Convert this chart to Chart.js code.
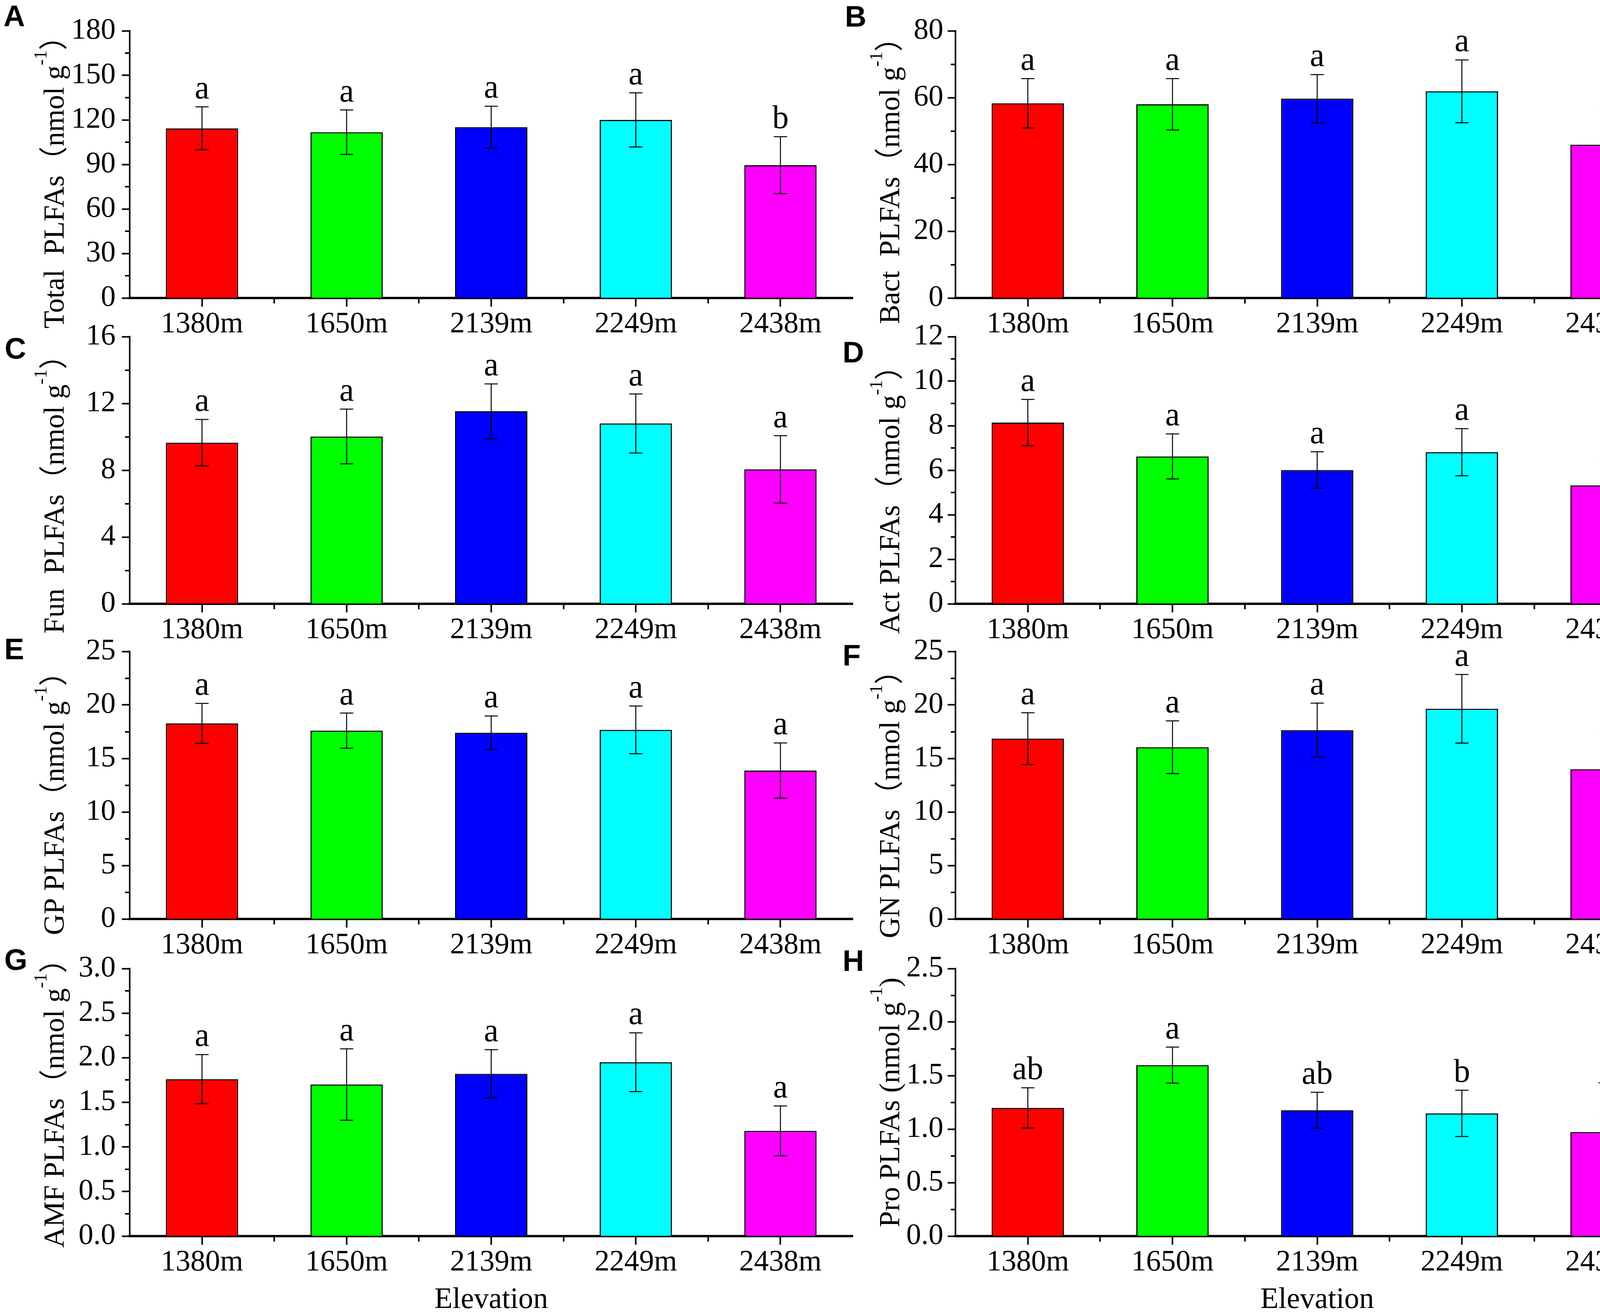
<!DOCTYPE html>
<html lang="en">
<head>
<meta charset="UTF-8">
<title>PLFAs by elevation</title>
<script src="https://cdn.jsdelivr.net/npm/chart.js@4/dist/chart.umd.min.js"></script>
<style>
  body { margin: 0; background: #fff; }
  #fig { position: relative; width: 4318px; height: 3367px; overflow: hidden; background: #fff; }
  #fig canvas { position: absolute; }
  .tag { position: absolute; font: bold 76px "Liberation Sans", Arial, sans-serif; line-height: 1; color: #000; }
</style>
</head>
<body>
<div id="fig"></div>
<script>
// ---- data ----
const elevations = ["1380m", "1650m", "2139m", "2249m", "2438m"]
const barColors = ["#ff0000", "#00ff00", "#0000ff", "#00ffff", "#ff00ff"]

const totalMean = [114.3, 111.7, 115.1, 120.0, 89.5]
const totalErr = [14.5, 15.0, 14.1, 18.2, 19.2]
const totalSig = ["a", "a", "a", "a", "b"]

const bactMean = [58.3, 58.0, 59.7, 61.9, 45.9]
const bactErr = [7.4, 7.7, 7.2, 9.4, 10.1]
const bactSig = ["a", "a", "a", "a", "a"]

const funMean = [9.65, 10.02, 11.53, 10.8, 8.05]
const funErr = [1.39, 1.64, 1.64, 1.77, 2.02]
const funSig = ["a", "a", "a", "a", "a"]

const actMean = [8.14, 6.62, 6.01, 6.81, 5.32]
const actErr = [1.04, 1.01, 0.82, 1.06, 1.28]
const actSig = ["a", "a", "a", "a", "a"]

const gpMean = [18.28, 17.6, 17.4, 17.67, 13.87]
const gpErr = [1.87, 1.64, 1.57, 2.23, 2.58]
const gpSig = ["a", "a", "a", "a", "a"]

const gnMean = [16.85, 16.05, 17.65, 19.64, 14.0]
const gnErr = [2.42, 2.46, 2.52, 3.21, 3.33]
const gnSig = ["a", "a", "a", "a", "a"]

const amfMean = [1.76, 1.7, 1.82, 1.95, 1.18]
const amfErr = [0.275, 0.4, 0.27, 0.33, 0.28]
const amfSig = ["a", "a", "a", "a", "a"]

const proMean = [1.198, 1.598, 1.176, 1.147, 0.973]
const proErr = [0.188, 0.168, 0.168, 0.216, 0.17]
const proSig = ["ab", "a", "ab", "b", "b"]

// y axis ranges and tick steps
const yMax = [180, 80, 16, 12, 25, 25, 3.0, 2.5]
const yStep = [30, 20, 4, 2, 5, 5, 0.5, 0.5]
const yDecimals = [0, 0, 0, 0, 0, 0, 1, 1]

const panelTags = ["A", "B", "C", "D", "E", "F", "G", "H"]
const titleNames = ["Total  PLFAs", "Bact  PLFAs", "Fun  PLFAs", "Act PLFAs", "GP PLFAs", "GN PLFAs", "AMF PLFAs", "Pro PLFAs "]
const xTitle = "Elevation"

const means = [totalMean, bactMean, funMean, actMean, gpMean, gnMean, amfMean, proMean]
const errs = [totalErr, bactErr, funErr, actErr, gpErr, gnErr, amfErr, proErr]
const sigs = [totalSig, bactSig, funSig, actSig, gpSig, gnSig, amfSig, proSig]

// ---- layout (page pixels) ----
const rowTop = [79, 862, 1668, 2480]
const rowBottom = [763, 1546, 2353, 3165]
const colAxis = [332, 2446]
const colRight = [2183, 4298]
const colLeft = [0, 2160]
const titleBase = [163, 2302]       // baseline x of the rotated y titles
const tickPad = [16, 11]
const titleShift = [27, 23, 43, 57, 28, 30, -16, 0]
const tagPos = [[9, 3], [2163, 4], [12, 854], [2157, 864], [11, 1624], [2157, 1640], [11, 2419], [2157, 2422]]

const serif = '"Liberation Serif", "Times New Roman", serif'
const cjk = '"Noto Sans CJK SC", "Noto Sans CJK JP", sans-serif'
const PAD_TOP = 70

const fig = document.getElementById("fig")

function titleParts(i) {
  const full = i !== 7
  return [
    { t: titleNames[i], f: `74px ${serif}`, dy: 0 },
    { t: full ? "\uFF08" : "(", f: full ? `74px ${cjk}` : `74px ${serif}`, dy: 0 },
    { t: "nmol g", f: `74px ${serif}`, dy: 0 },
    { t: "-1", f: `46px ${serif}`, dy: -44 },
    { t: full ? "\uFF09" : ")", f: full ? `74px ${cjk}` : `74px ${serif}`, dy: 0 },
  ]
}

function makePanelPlugin(i, titleX, titleY) {
  return {
    id: "panelExtras" + i,
    afterDraw(chart) {
      const { ctx, chartArea, scales } = chart
      const x = scales.x
      const y = scales.y
      ctx.save()
      ctx.strokeStyle = "#000"
      ctx.fillStyle = "#000"

      // minor ticks on y axis
      ctx.lineWidth = 4
      for (let v = yStep[i] / 2; v < yMax[i]; v += yStep[i]) {
        const py = Math.round(y.getPixelForValue(v))
        ctx.beginPath()
        ctx.moveTo(chartArea.left - 12, py)
        ctx.lineTo(chartArea.left, py)
        ctx.stroke()
      }
      // minor ticks between categories
      for (let k = 0; k < elevations.length - 1; k++) {
        const px = Math.round((x.getPixelForValue(k) + x.getPixelForValue(k + 1)) / 2)
        ctx.beginPath()
        ctx.moveTo(px, chartArea.bottom)
        ctx.lineTo(px, chartArea.bottom + 14)
        ctx.stroke()
      }

      // error bars and significance letters
      ctx.lineWidth = 2.5
      ctx.textAlign = "center"
      ctx.textBaseline = "alphabetic"
      ctx.font = `84px ${serif}`
      means[i].forEach((m, k) => {
        const px = x.getPixelForValue(k)
        const top = y.getPixelForValue(m + errs[i][k])
        const bot = y.getPixelForValue(m - errs[i][k])
        ctx.beginPath()
        ctx.moveTo(px, top)
        ctx.lineTo(px, bot)
        ctx.moveTo(px - 17, top)
        ctx.lineTo(px + 17, top)
        ctx.moveTo(px - 17, bot)
        ctx.lineTo(px + 17, bot)
        ctx.stroke()
        ctx.fillText(sigs[i][k], px, top - 22)
      })

      // rotated y title with superscript
      const parts = titleParts(i)
      let total = 0
      parts.forEach(p => {
        ctx.font = p.f
        p.w = ctx.measureText(p.t).width
        total += p.w
      })
      ctx.translate(titleX, titleY)
      ctx.rotate(-Math.PI / 2)
      ctx.textAlign = "left"
      let cx = -total / 2
      parts.forEach(p => {
        ctx.font = p.f
        ctx.fillText(p.t, cx, p.dy)
        cx += p.w
      })
      ctx.restore()
    },
  }
}

for (let i = 0; i < 8; i++) {
  const col = i % 2
  const row = Math.floor(i / 2)
  const xH = row === 3 ? 3367 - rowBottom[row] : 130
  const left = colLeft[col]
  const top = rowTop[row] - PAD_TOP
  const width = (col === 0 ? colRight[0] + 20 : 4318) - left
  const height = rowBottom[row] + xH - top
  const yW = colAxis[col] - left

  const canvas = document.createElement("canvas")
  canvas.width = width
  canvas.height = height
  canvas.style.left = left + "px"
  canvas.style.top = top + "px"
  canvas.style.width = width + "px"
  canvas.style.height = height + "px"
  fig.appendChild(canvas)

  const tag = document.createElement("div")
  tag.className = "tag"
  tag.textContent = panelTags[i]
  tag.style.left = tagPos[i][0] + "px"
  tag.style.top = tagPos[i][1] + "px"
  fig.appendChild(tag)

  // baseline of the rotated title sits right of its centre line
  const titleX = titleBase[col] - left
  const titleY = (rowTop[row] + rowBottom[row]) / 2 + titleShift[i] - top

  new Chart(canvas, {
    type: "bar",
    data: {
      labels: elevations,
      datasets: [{
        data: means[i],
        backgroundColor: barColors,
        borderColor: "#000",
        borderWidth: 3,
        barPercentage: 0.5,
        categoryPercentage: 1,
      }],
    },
    options: {
      responsive: false,
      animation: false,
      devicePixelRatio: 1,
      layout: { padding: { top: PAD_TOP, right: 20, bottom: 0, left: 0 } },
      plugins: { legend: { display: false }, tooltip: { enabled: false } },
      scales: {
        x: {
          offset: true,
          grid: { offset: false, drawOnChartArea: false, drawTicks: true, tickLength: 22, tickWidth: 4, color: "#000" },
          border: { display: true, color: "#000", width: 6 },
          ticks: { color: "#000", font: { family: serif, size: 76 }, padding: 0, maxRotation: 0, autoSkip: false },
          title: {
            display: row === 3,
            text: xTitle,
            color: "#000",
            font: { family: serif, size: 76, lineHeight: 1 },
            padding: { top: 0, bottom: 0 },
          },
          afterFit: s => { s.height = xH },
        },
        y: {
          min: 0,
          max: yMax[i],
          grid: { drawOnChartArea: false, drawTicks: true, tickLength: 20, tickWidth: 4, color: "#000" },
          border: { display: true, color: "#000", width: 4 },
          ticks: {
            stepSize: yStep[i],
            color: "#000",
            font: { family: serif, size: 76 },
            padding: tickPad[col],
            callback: v => Number(v).toFixed(yDecimals[i]),
          },
          afterFit: s => { s.width = yW },
        },
      },
    },
    plugins: [makePanelPlugin(i, titleX, titleY)],
  })
}
</script>
</body>
</html>
